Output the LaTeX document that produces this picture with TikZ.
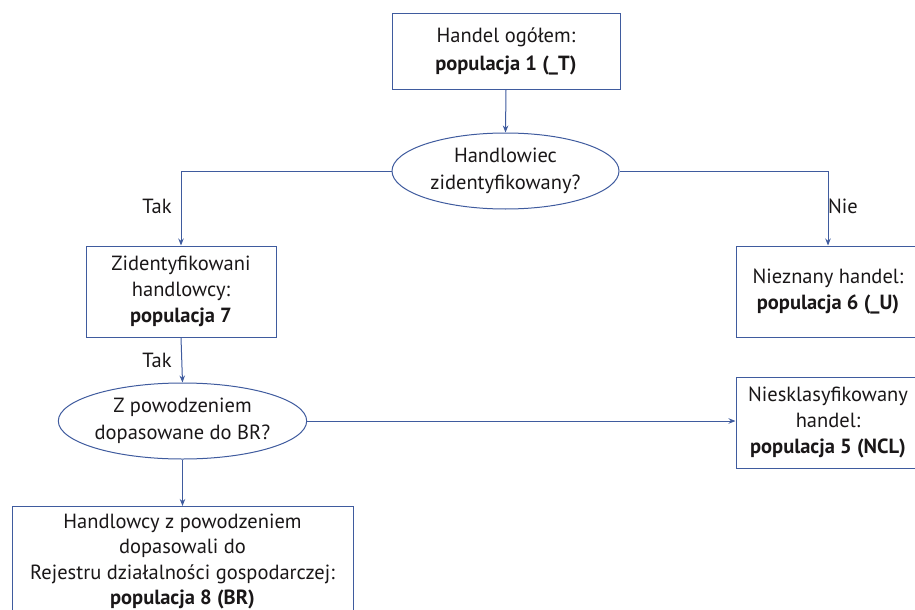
\documentclass[tikz,border=0pt]{standalone}
\usepackage{fontspec}
\setmainfont{PT Sans}
\usetikzlibrary{shapes.geometric,arrows.meta}
\definecolor{lineblue}{HTML}{3F5B9E}
\definecolor{txt}{HTML}{1A1718}
\begin{document}
\begin{tikzpicture}[x=1pt,y=-1pt,
  every node/.style={text=txt,font=\fontsize{20.5}{26}\selectfont},
  boxnode/.style={draw=lineblue,line width=1pt,rectangle,align=center,inner sep=0pt},
  decision/.style={draw=lineblue,line width=1pt,ellipse,align=center,inner sep=0pt,minimum width=227pt,minimum height=76pt},
  conn/.style={draw=lineblue,line width=1pt,-{Stealth[length=7pt,width=5.5pt]}},
  lab/.style={inner sep=0pt}]
\useasboundingbox (0,0) rectangle (915,610);
\clip (0,0) rectangle (915,610);
\node[boxnode,minimum width=228pt,minimum height=75pt,font=\fontsize{20.5}{28}\selectfont] (top) at (506,51.5) {Handel ogółem:\\\textbf{populacja 1 (\_T)}};
\node[decision,font=\fontsize{20.5}{27}\selectfont] (e1) at (505.5,171) {Handlowiec\\zidentyfikowany?};
\node[boxnode,minimum width=190pt,minimum height=91pt] (b7) at (181,291.5) {Zidentyfikowani\\handlowcy:\\\textbf{populacja 7}};
\node[boxnode,minimum width=184pt,minimum height=91pt] (b6) at (828,291.5) {Nieznany handel:\\\textbf{populacja 6 (\_U)}};
\node[decision,minimum width=229pt,font=\fontsize{20.5}{27}\selectfont] (e2) at (182.5,421) {Z powodzeniem\\dopasowane do BR?};
\node[boxnode,minimum width=184pt,minimum height=91pt] (b5) at (828,422.5) {Niesklasyfikowany\\handel:\\\textbf{populacja 5 (NCL)}};
\node[boxnode,minimum width=341pt,minimum height=110pt,anchor=north,font=\fontsize{20.5}{25.5}\selectfont] (b8) at (182.5,506) {Handlowcy z powodzeniem\\dopasowali do\\Rejestru działalności gospodarczej:\\\textbf{populacja 8 (BR)}};
\node[lab] (t1) at (157,206) {Tak};
\node[lab] (t2) at (157,360) {Tak};
\node[lab] (n1) at (843,206) {Nie};
\draw[conn] (top.south) -- (e1.north);
\draw[conn] (e1.west) -| (b7.north);
\draw[conn] (e1.east) -| (b6.north);
\draw[conn] (b7.south) -- (e2.north);
\draw[conn] (e2.east) -- (e2.east -| b5.west);
\draw[conn] (e2.south) -- (b8.north);
\end{tikzpicture}
\end{document}
